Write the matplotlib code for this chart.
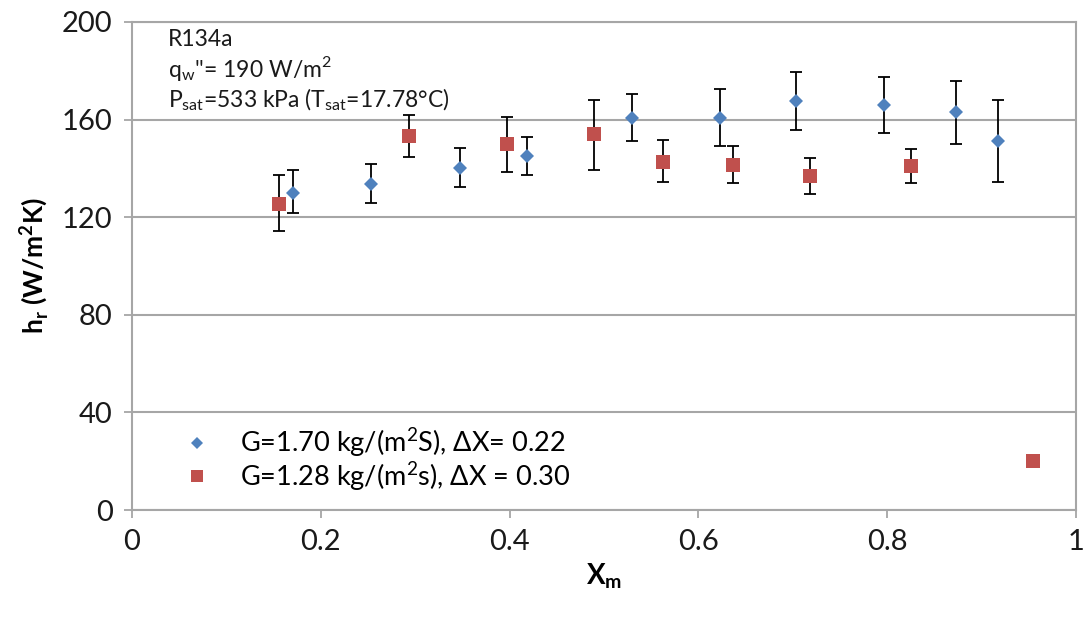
import matplotlib
matplotlib.use("Agg")
import matplotlib.pyplot as plt
import numpy as np

plt.rcParams["font.family"] = ["Lato", "DejaVu Sans"]
plt.rcParams["mathtext.fontset"] = "custom"
plt.rcParams["mathtext.rm"] = "Lato"
plt.rcParams["mathtext.bf"] = "Lato:bold"

# G = 1.70 kg/(m2 s), dX = 0.22
x_g170 = [0.171, 0.253, 0.347, 0.418, 0.530, 0.623, 0.703, 0.797, 0.873, 0.917]
h_g170 = [130.0, 133.7, 140.3, 145.2, 160.5, 160.8, 167.5, 166.0, 163.3, 151.3]
h_g170_hi = [139.5, 141.7, 148.2, 153.0, 170.4, 172.7, 179.7, 177.3, 175.7, 167.9]
h_g170_lo = [121.7, 125.8, 132.4, 137.2, 151.1, 149.3, 155.9, 154.4, 150.2, 134.3]

# G = 1.28 kg/(m2 s), dX = 0.30
x_g128 = [0.156, 0.293, 0.397, 0.489, 0.563, 0.637, 0.718, 0.825]
h_g128 = [125.3, 153.3, 149.8, 153.9, 142.8, 141.4, 137.0, 141.0]
h_g128_hi = [137.3, 162.0, 161.0, 167.9, 151.7, 149.3, 144.1, 147.8]
h_g128_lo = [114.3, 144.5, 138.6, 139.5, 134.3, 133.9, 129.7, 134.0]

# single point without error bar
x_extra = [0.954]
h_extra = [20.2]

blue = "#4F81BD"
red = "#C0504D"
grid_c = "#A6A6A6"

fig = plt.figure(figsize=(10.88, 6.21), dpi=100)
ax = fig.add_axes([0.1213, 0.1787, 0.8677, 0.7859])


def yerr(h, lo, hi):
    h = np.array(h)
    return [h - np.array(lo), np.array(hi) - h]


ax.errorbar(x_g170, h_g170, yerr=yerr(h_g170, h_g170_lo, h_g170_hi), fmt="none",
            ecolor="black", elinewidth=1.3, capsize=4.5, capthick=1.3, zorder=3)
ax.errorbar(x_g128, h_g128, yerr=yerr(h_g128, h_g128_lo, h_g128_hi), fmt="none",
            ecolor="black", elinewidth=1.3, capsize=4.5, capthick=1.3, zorder=3)
ax.plot(x_g170, h_g170, "D", color=blue, markersize=7.5, markeredgewidth=0, zorder=4,
        label=r"G=1.70 kg/(m$^\mathregular{2}$S), ΔX= 0.22")
ax.plot(x_g128, h_g128, "s", color=red, markersize=10.5, markeredgewidth=0, zorder=4,
        label=r"G=1.28 kg/(m$^\mathregular{2}$s), ΔX = 0.30")
ax.plot(x_extra, h_extra, "s", color=red, markersize=10.5, markeredgewidth=0, zorder=4)

ax.set_xlim(0, 1)
ax.set_ylim(0, 200)
ax.set_xticks([0, 0.2, 0.4, 0.6, 0.8, 1])
ax.set_xticklabels(["0", "0.2", "0.4", "0.6", "0.8", "1"])
ax.set_yticks([0, 40, 80, 120, 160, 200])
ax.yaxis.grid(True, color=grid_c, linewidth=1.5)
ax.set_axisbelow(True)
for s in ax.spines.values():
    s.set_color(grid_c)
    s.set_linewidth(1.5)
ax.tick_params(axis="both", colors=grid_c, length=6, width=1.3, labelsize=21,
               labelcolor="#1a1a1a", pad=8)

ax.set_xlabel(r"X$_\mathregular{m}$", fontsize=20, fontweight="bold", labelpad=4)
ax.set_ylabel(r"h$_\mathregular{r}$ (W/m$^\mathregular{2}$K)", fontsize=19,
              fontweight="bold", labelpad=8)

ax.text(0.038, 0.985, "R134a\n"
        r"q$_\mathregular{w}$''= 190 W/m$^\mathregular{2}$" "\n"
        r"P$_\mathregular{sat}$=533 kPa (T$_\mathregular{sat}$=17.78°C)",
        transform=ax.transAxes, va="top", ha="left", fontsize=16.5,
        color="#1a1a1a", linespacing=1.15)

leg = ax.legend(loc="lower left", bbox_to_anchor=(0.014, -0.015), frameon=False,
                fontsize=19.5, handletextpad=0.6, markerscale=0.85, labelspacing=0.0)

fig.savefig("out.png", dpi=100)
